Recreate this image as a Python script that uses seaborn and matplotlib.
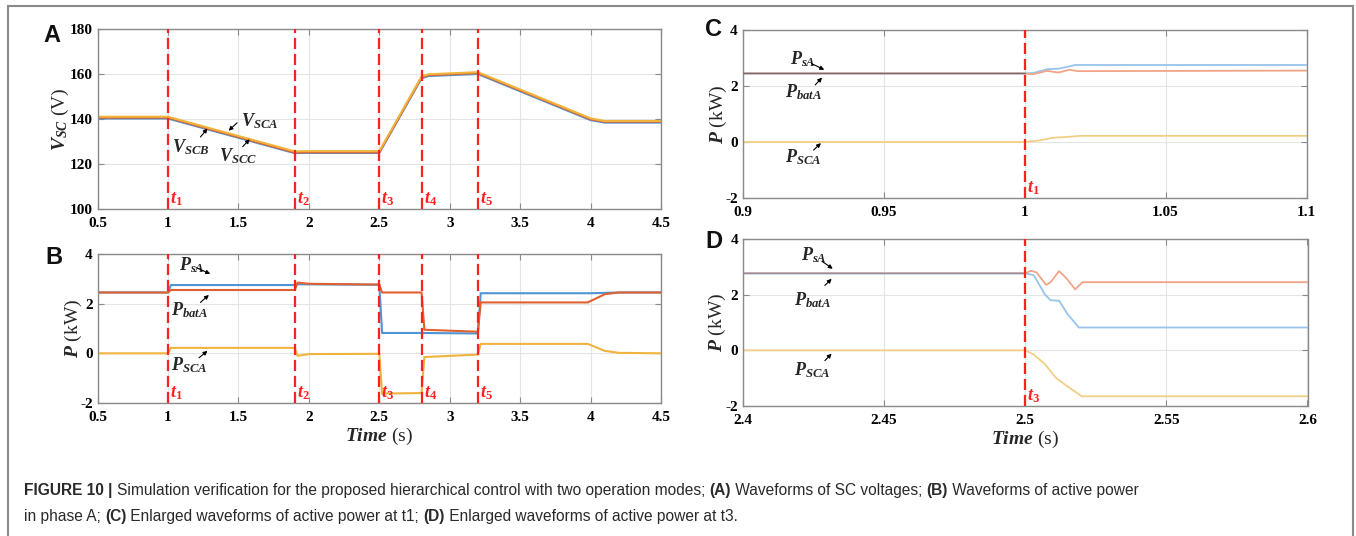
import numpy as np
import pandas as pd
import matplotlib
matplotlib.use('Agg')
import matplotlib.pyplot as plt
import seaborn as sns
from matplotlib.patches import Rectangle

# ---- data ----
# (A) SC voltages
tA = [0.5, 1.0, 1.9, 1.95, 2.5, 2.8, 2.85, 3.2, 4.0, 4.1, 4.5]
v_sca = [141.0, 141.0, 125.6, 125.7, 125.7, 158.9, 159.9, 160.8, 140.3, 139.1, 139.1]
v_scb = [140.2, 140.2, 124.8, 124.9, 124.9, 158.1, 159.1, 160.0, 139.5, 138.4, 138.4]
v_scc = [140.6, 140.6, 125.1, 125.2, 125.2, 158.5, 159.5, 160.4, 139.9, 138.8, 138.8]

# (B) active power phase A, full run
tB_s = [0.5, 1.0, 1.02, 1.9, 1.92, 2.5, 2.52, 2.8, 3.2, 3.22, 4.0, 4.2, 4.5]
p_sa = [2.45, 2.45, 2.75, 2.75, 2.78, 2.76, 0.82, 0.82, 0.80, 2.42, 2.42, 2.45, 2.45]
tB_b = [0.5, 1.0, 1.02, 1.9, 1.92, 2.0, 2.5, 2.52, 2.8, 2.82, 3.2, 3.22, 3.98, 4.1, 4.2, 4.5]
p_bata = [2.45, 2.45, 2.55, 2.55, 2.85, 2.8, 2.77, 2.45, 2.45, 0.95, 0.87, 2.05, 2.05, 2.38, 2.45, 2.45]
tB_c = [0.5, 1.0, 1.02, 1.9, 1.92, 2.0, 2.5, 2.52, 2.8, 2.82, 3.2, 3.22, 3.98, 4.1, 4.2, 4.5]
p_sca = [0.0, 0.0, 0.22, 0.22, -0.1, -0.03, -0.02, -1.62, -1.6, -0.15, -0.05, 0.38, 0.38, 0.1, 0.02, 0.0]

# (C) zoom at t1
tC_s = [0.9, 1.0, 1.003, 1.008, 1.012, 1.015, 1.018, 1.1]
c_sa = [2.45, 2.45, 2.46, 2.6, 2.62, 2.68, 2.75, 2.75]
tC_b = [0.9, 1.0, 1.003, 1.008, 1.012, 1.016, 1.019, 1.1]
c_bata = [2.45, 2.45, 2.42, 2.54, 2.48, 2.58, 2.53, 2.55]
tC_c = [0.9, 1.0, 1.005, 1.01, 1.015, 1.02, 1.1]
c_sca = [0.0, 0.0, 0.05, 0.15, 0.18, 0.22, 0.22]

# (D) zoom at t3
tD_s = [2.4, 2.5, 2.503, 2.507, 2.509, 2.512, 2.515, 2.519, 2.6]
d_sa = [2.77, 2.77, 2.7, 2.0, 1.8, 1.78, 1.3, 0.82, 0.82]
tD_b = [2.4, 2.5, 2.502, 2.504, 2.5074, 2.509, 2.512, 2.5145, 2.5177, 2.5203, 2.6]
d_bata = [2.77, 2.77, 2.86, 2.8, 2.35, 2.45, 2.85, 2.6, 2.19, 2.45, 2.45]
tD_c = [2.4, 2.5, 2.503, 2.507, 2.511, 2.515, 2.52, 2.6]
d_sca = [0.0, 0.0, -0.15, -0.5, -1.0, -1.3, -1.65, -1.65]

events_AB = [1.0, 1.9, 2.5, 2.8, 3.2]
event_names = ['$t_1$', '$t_2$', '$t_3$', '$t_4$', '$t_5$']

xt_AB = [0.5, 1, 1.5, 2, 2.5, 3, 3.5, 4, 4.5]
xl_AB = ['0.5', '1', '1.5', '2', '2.5', '3', '3.5', '4', '4.5']
yt_A = [100, 120, 140, 160, 180]
yt_P = [-2, 0, 2, 4]
xt_C = [0.9, 0.95, 1.0, 1.05, 1.1]
xl_C = ['0.9', '0.95', '1', '1.05', '1.1']
xt_D = [2.4, 2.45, 2.5, 2.55, 2.6]
xl_D = ['2.4', '2.45', '2.5', '2.55', '2.6']

sns.set_theme(style='white')
plt.rcParams['font.family'] = ['Liberation Serif', 'DejaVu Serif']
plt.rcParams['font.weight'] = 'bold'
plt.rcParams['mathtext.fontset'] = 'custom'
plt.rcParams['mathtext.it'] = 'Liberation Serif:italic:bold'
plt.rcParams['mathtext.rm'] = 'Liberation Serif:bold'
plt.rcParams['mathtext.bf'] = 'Liberation Serif:bold'

BLUE, ORANGE, YELLOW = '#4f95d6', '#e0602f', '#f0b43c'
LBLUE, LORANGE, LYELLOW = '#98c4ec', '#f2a488', '#f2cf85'
RED = '#ff2020'

fig = plt.figure(figsize=(13.56, 5.36), dpi=100)
W, H = 1356, 536


def ax_at(l, t, r, b):
    return fig.add_axes([l / W, 1 - b / H, (r - l) / W, (b - t) / H])


def style(ax, xt, xl, yt, xlim, ylim):
    ax.set_xlim(*xlim)
    ax.set_ylim(*ylim)
    ax.set_xticks(xt)
    ax.set_xticklabels(xl)
    ax.set_yticks(yt)
    ax.set_yticklabels([str(v) for v in yt])
    ax.grid(True, color='#e4e4e4', lw=0.8)
    ax.set_axisbelow(True)
    for s in ax.spines.values():
        s.set_color('#8a8a8a')
        s.set_linewidth(1.0)
    ax.tick_params(direction='in', length=4, width=0.8, color='#8a8a8a',
                   labelsize=11, labelcolor='black', top=True, right=True,
                   bottom=True, left=True)
    ax.tick_params(axis='x', pad=6)
    ax.tick_params(axis='y', pad=3.5)
    for lab in ax.get_xticklabels() + ax.get_yticklabels():
        lab.set_fontweight('bold')
    ax.set_xlabel('')
    ax.set_ylabel('')


def draw(ax, series, palette, lw):
    frames = []
    for name, t, v in series:
        frames.append(pd.DataFrame({'t': t, 'v': v, 's': name}))
    df = pd.concat(frames, ignore_index=True)
    sns.lineplot(data=df, x='t', y='v', hue='s', palette=palette, lw=lw,
                 estimator=None, sort=False, legend=False, ax=ax)


def events(ax, xs, names, ylab):
    for x, n in zip(xs, names):
        ax.axvline(x, color=RED, lw=1.6, dashes=(5, 2.2), zorder=5)
        ax.annotate(n, xy=(x, ylab), xytext=(1.5, 0), textcoords='offset points',
                    color=RED, fontsize=13, ha='left', va='bottom', zorder=6)


def arrow(ax, tail, head):
    ax.annotate('', xy=head, xytext=tail,
                arrowprops=dict(arrowstyle='-|>', color='black', lw=0.8,
                                mutation_scale=6, shrinkA=0, shrinkB=0))


def ylab(ax, txt, xpx, left, width):
    ax.set_ylabel(txt, fontsize=14)
    ax.yaxis.set_label_coords((xpx - left) / width, 0.5)


# ---- A ----
axA = ax_at(97.6, 29, 661, 209)
draw(axA, [('B', tA, v_scb), ('C', tA, v_scc), ('A', tA, v_sca)],
     {'A': YELLOW, 'B': BLUE, 'C': ORANGE}, 1.5)
style(axA, xt_AB, xl_AB, yt_A, (0.5, 4.5), (100, 180))
events(axA, events_AB, event_names, 100.5)
ylab(axA, '$V_{SC}$ (V)', 71, 97.6, 563.4)
axA.text(1.52, 139.0, '$V_{SCA}$', fontsize=13, ha='left', va='center')
arrow(axA, (1.49, 138.3), (1.43, 134.8))
axA.text(1.16, 127.3, '$V_{SCB}$', fontsize=13, ha='center', va='center')
arrow(axA, (1.23, 132.0), (1.28, 135.8))
axA.text(1.5, 123.4, '$V_{SCC}$', fontsize=13, ha='center', va='center')
arrow(axA, (1.53, 127.7), (1.58, 131.0))

# ---- B ----
axB = ax_at(97.6, 254, 661, 403)
draw(axB, [('s', tB_s, p_sa), ('b', tB_b, p_bata), ('c', tB_c, p_sca)],
     {'s': BLUE, 'b': ORANGE, 'c': YELLOW}, 1.5)
style(axB, xt_AB, xl_AB, yt_P, (0.5, 4.5), (-2, 4))
events(axB, events_AB, event_names, -1.95)
ylab(axB, '$P$ (kW)', 84, 97.6, 563.4)
axB.set_xlabel('$Time$ (s)', fontsize=14, labelpad=1)
axB.text(1.17, 3.55, '$P_{sA}$', fontsize=13, ha='center', va='center')
arrow(axB, (1.2, 3.45), (1.3, 3.2))
axB.text(1.15, 1.72, '$P_{batA}$', fontsize=13, ha='center', va='center')
arrow(axB, (1.23, 2.05), (1.29, 2.35))
axB.text(1.15, -0.47, '$P_{SCA}$', fontsize=13, ha='center', va='center')
arrow(axB, (1.22, -0.18), (1.28, 0.1))

# ---- C ----
axC = ax_at(742.5, 30, 1306.5, 198)
draw(axC, [('s', tC_s, c_sa), ('b', tC_b, c_bata), ('c', tC_c, c_sca)],
     {'s': LBLUE, 'b': LORANGE, 'c': LYELLOW}, 1.3)
axC.plot([0.9, 1.0], [2.45, 2.45], color='#7a6a70', lw=1.0, zorder=4)
style(axC, xt_C, xl_C, yt_P, (0.9, 1.1), (-2, 4))
events(axC, [1.0], ['$t_1$'], -1.95)
ylab(axC, '$P$ (kW)', 729, 742.5, 564)
axC.text(0.9215, 2.95, '$P_{sA}$', fontsize=13, ha='center', va='center')
arrow(axC, (0.9245, 2.8), (0.929, 2.58))
axC.text(0.9218, 1.77, '$P_{batA}$', fontsize=13, ha='center', va='center')
arrow(axC, (0.9258, 2.04), (0.9282, 2.3))
axC.text(0.9215, -0.54, '$P_{SCA}$', fontsize=13, ha='center', va='center')
arrow(axC, (0.9252, -0.29), (0.9278, -0.04))

# ---- D ----
axD = ax_at(743, 239, 1307.5, 406)
draw(axD, [('s', tD_s, d_sa), ('b', tD_b, d_bata), ('c', tD_c, d_sca)],
     {'s': LBLUE, 'b': LORANGE, 'c': LYELLOW}, 1.3)
axD.plot([2.4, 2.5], [2.77, 2.77], color='#8a90a8', lw=1.0, zorder=4)
style(axD, xt_D, xl_D, yt_P, (2.4, 2.6), (-2, 4))
events(axD, [2.5], ['$t_3$'], -1.95)
ylab(axD, '$P$ (kW)', 728, 743, 564.5)
axD.set_xlabel('$Time$ (s)', fontsize=14, labelpad=1)
axD.text(2.425, 3.42, '$P_{sA}$', fontsize=13, ha='center', va='center')
arrow(axD, (2.428, 3.2), (2.4318, 2.93))
axD.text(2.4245, 1.79, '$P_{batA}$', fontsize=13, ha='center', va='center')
arrow(axD, (2.429, 2.33), (2.4314, 2.57))
axD.text(2.4245, -0.72, '$P_{SCA}$', fontsize=13, ha='center', va='center')
arrow(axD, (2.429, -0.37), (2.4314, -0.12))

# panel letters
for lab, x, y in [('A', 43, 35), ('B', 45, 257), ('C', 705, 29), ('D', 705, 241)]:
    fig.text(x / W, 1 - y / H, lab, fontsize=17, fontweight='bold',
             family='Liberation Sans', ha='left', va='center', color='#111111')

# caption
cap1 = [('FIGURE 10 | ', 'bold'),
        ('Simulation verification for the proposed hierarchical control with two operation modes; ', 'normal'),
        ('(A)', 'bold'), (' Waveforms of SC voltages; ', 'normal'),
        ('(B)', 'bold'), (' Waveforms of active power', 'normal')]
cap2 = [('in phase A; ', 'normal'), ('(C)', 'bold'),
        (' Enlarged waveforms of active power at t1; ', 'normal'),
        ('(D)', 'bold'), (' Enlarged waveforms of active power at t3.', 'normal')]
for segs, ypx in [(cap1, 491), (cap2, 517)]:
    last = None
    for txt, wt in segs:
        kw = dict(fontsize=11.2, fontweight=wt, family='Liberation Sans',
                  color='#2a2a2a', va='center', ha='left')
        if last is None:
            last = fig.text(24 / W, 1 - ypx / H, txt, **kw)
        else:
            last = plt.annotate(txt, xy=(1, 0.5), xycoords=last, **kw)

# outer frame
fig.patches.append(Rectangle((8 / W, -0.05), (1353 - 8) / W, 1 - 6 / H + 0.05,
                             transform=fig.transFigure, fill=False,
                             edgecolor='#8a8a8a', lw=1.5, clip_on=False))

fig.savefig('out.png', dpi=100)
plt.close(fig)
